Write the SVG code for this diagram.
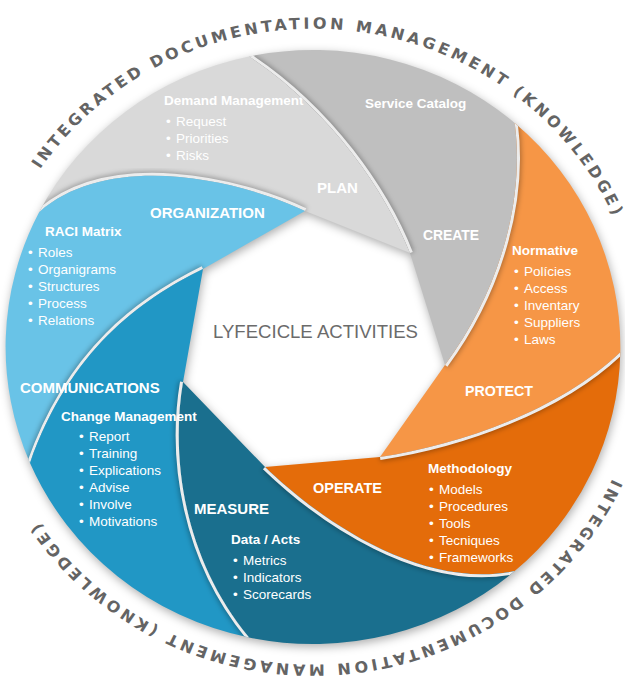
<svg xmlns="http://www.w3.org/2000/svg" xmlns:xlink="http://www.w3.org/1999/xlink" width="625" height="689" viewBox="0 0 625 689">
<style>
.sub{font-family:"Liberation Sans",Arial,sans-serif;font-weight:bold;font-size:13.5px;fill:#fff}
.item{font-family:"Liberation Sans",Arial,sans-serif;font-size:13.5px;fill:#fff}
.head{font-family:"Liberation Sans",Arial,sans-serif;font-weight:bold;font-size:15px;fill:#fff}
.ring{font-family:"DejaVu Sans","Liberation Sans",sans-serif;font-weight:bold;font-size:15.5px;fill:#646464;letter-spacing:3.2px}
.center{font-family:"Liberation Sans",Arial,sans-serif;font-size:19px;fill:#6b6b6b}
.edge-shadow{fill:none;stroke:#000;stroke-opacity:.28;stroke-width:9;filter:url(#blur3)}
.edge-light{fill:none;stroke:#ececec;stroke-width:6}
</style>
<defs>
<filter id="blur3" x="-20%" y="-20%" width="140%" height="140%"><feGaussianBlur stdDeviation="2.5"/></filter>
<filter id="blur5" x="-10%" y="-10%" width="120%" height="120%"><feGaussianBlur stdDeviation="5"/></filter>
<path id="s-lb" d="M305,211 C240,180 110,150 39.1,212.2 A307.4,297 0 0 0 30,463 C70,350 140,300 203,269 Z"/>
<path id="s-lg" d="M410,253 C385,190 330,110 249.1,56.5 A307.4,297 0 0 0 39.1,212.2 C110,150 240,180 305,211 Z"/>
<path id="s-dg" d="M445,365 C500,290 525,200 514.7,122.9 A307.4,297 0 0 0 249.1,56.5 C330,110 385,190 410,253 Z"/>
<path id="s-lo" d="M380,457 C460,445 560,410 620.3,352.2 A307.4,297 0 0 0 514.7,122.9 C525,200 500,290 445,365 Z"/>
<path id="s-do" d="M265,467 C320,520 420,590 514.7,571.1 A307.4,297 0 0 0 620.3,352.2 C560,410 460,445 380,457 Z"/>
<path id="s-te" d="M183,382 C170,460 185,560 249.1,637.5 A307.4,297 0 0 0 514.7,571.1 C420,590 320,520 265,467 Z"/>
<path id="s-mb" d="M203,269 C140,300 70,350 30,463 A307.4,297 0 0 0 249.1,637.5 C185,560 170,460 183,382 Z"/>
<path id="e-lb" d="M305,211 C240,180 110,150 39.1,212.2"/>
<path id="e-lg" d="M410,253 C385,190 330,110 249.1,56.5"/>
<path id="e-dg" d="M445,365 C500,290 525,200 514.7,122.9"/>
<path id="e-lo" d="M380,457 C460,445 560,410 620.3,352.2"/>
<path id="e-do" d="M265,467 C320,520 420,590 514.7,571.1"/>
<path id="e-te" d="M183,382 C170,460 185,560 249.1,637.5"/>
<path id="e-mb" d="M203,269 C140,300 70,350 30,463"/>
<clipPath id="c-lb"><use xlink:href="#s-lb"/></clipPath>
<clipPath id="c-lg"><use xlink:href="#s-lg"/></clipPath>
<clipPath id="c-dg"><use xlink:href="#s-dg"/></clipPath>
<clipPath id="c-lo"><use xlink:href="#s-lo"/></clipPath>
<clipPath id="c-do"><use xlink:href="#s-do"/></clipPath>
<clipPath id="c-te"><use xlink:href="#s-te"/></clipPath>
<clipPath id="c-mb"><use xlink:href="#s-mb"/></clipPath>
<path id="arc-top" d="M-263.6,-177.8 A318,318 0 1 1 243.6,204.4"/>
<path id="arc-bottom" d="M289.4,131.9 A318,318 0 1 1 -274.0,-161.4"/>
</defs>

<rect width="625" height="689" fill="#fff"/>

<g id="ring-title" transform="translate(313,347) scale(1.035,1)">
<text class="ring"><textPath xlink:href="#arc-top">INTEGRATED DOCUMENTATION MANAGEMENT (KNOWLEDGE)</textPath></text>
<text class="ring"><textPath xlink:href="#arc-bottom">INTEGRATED DOCUMENTATION MANAGEMENT (KNOWLEDGE)</textPath></text>
</g>

<path id="disc-shadow" transform="translate(1,3)" fill="#000" fill-opacity=".32" fill-rule="evenodd" filter="url(#blur5)" d="M5.6,347 A307.4,297 0 1 1 620.4,347 A307.4,297 0 1 1 5.6,347 Z M305,211 L410,253 L445,365 L380,457 L265,467 L183,382 L203,269 Z"/>

<g id="node-plan">
<use xlink:href="#s-lg" fill="#d9d9d9"/>
<g clip-path="url(#c-lg)"><use xlink:href="#e-lb" class="edge-shadow"/><use xlink:href="#e-lb" class="edge-light"/></g>
<text class="sub" x="164" y="105">Demand Management</text>
<text class="item" x="166" y="126">•</text><text class="item" x="176" y="126">Request</text>
<text class="item" x="166" y="143">•</text><text class="item" x="176" y="143">Priorities</text>
<text class="item" x="166" y="160">•</text><text class="item" x="176" y="160">Risks</text>
<text class="head" x="317" y="193">PLAN</text>
</g>

<g id="node-create">
<use xlink:href="#s-dg" fill="#bfbfbf"/>
<g clip-path="url(#c-dg)"><use xlink:href="#e-lg" class="edge-shadow"/><use xlink:href="#e-lg" class="edge-light"/></g>
<text class="sub" x="365" y="108">Service Catalog</text>
<text class="head" x="423" y="240" textLength="56" lengthAdjust="spacingAndGlyphs">CREATE</text>
</g>

<g id="node-protect">
<use xlink:href="#s-lo" fill="#f69646"/>
<g clip-path="url(#c-lo)"><use xlink:href="#e-dg" class="edge-shadow"/><use xlink:href="#e-dg" class="edge-light"/></g>
<text class="sub" x="512" y="255">Normative</text>
<text class="item" x="514" y="276">•</text><text class="item" x="524" y="276">Polícies</text>
<text class="item" x="514" y="293">•</text><text class="item" x="524" y="293">Access</text>
<text class="item" x="514" y="310">•</text><text class="item" x="524" y="310">Inventary</text>
<text class="item" x="514" y="327">•</text><text class="item" x="524" y="327">Suppliers</text>
<text class="item" x="514" y="344">•</text><text class="item" x="524" y="344">Laws</text>
<text class="head" x="465" y="396" textLength="68" lengthAdjust="spacingAndGlyphs">PROTECT</text>
</g>

<g id="node-operate">
<use xlink:href="#s-do" fill="#e46c0a"/>
<g clip-path="url(#c-do)"><use xlink:href="#e-lo" class="edge-shadow"/><use xlink:href="#e-lo" class="edge-light"/></g>
<text class="head" x="313" y="493" textLength="69" lengthAdjust="spacingAndGlyphs">OPERATE</text>
<text class="sub" x="428" y="473">Methodology</text>
<text class="item" x="429" y="494">•</text><text class="item" x="439" y="494">Models</text>
<text class="item" x="429" y="511">•</text><text class="item" x="439" y="511">Procedures</text>
<text class="item" x="429" y="528">•</text><text class="item" x="439" y="528">Tools</text>
<text class="item" x="429" y="545">•</text><text class="item" x="439" y="545">Tecniques</text>
<text class="item" x="429" y="562">•</text><text class="item" x="439" y="562">Frameworks</text>
</g>

<g id="node-measure">
<use xlink:href="#s-te" fill="#1a6f8e"/>
<g clip-path="url(#c-te)"><use xlink:href="#e-do" class="edge-shadow"/><use xlink:href="#e-do" class="edge-light"/></g>
<text class="head" x="194" y="514">MEASURE</text>
<text class="sub" x="231" y="544">Data / Acts</text>
<text class="item" x="233" y="565">•</text><text class="item" x="243" y="565">Metrics</text>
<text class="item" x="233" y="582">•</text><text class="item" x="243" y="582">Indicators</text>
<text class="item" x="233" y="599">•</text><text class="item" x="243" y="599">Scorecards</text>
</g>

<g id="node-organization">
<use xlink:href="#s-lb" fill="#69c3e7"/>
<g clip-path="url(#c-lb)"><use xlink:href="#e-mb" class="edge-shadow"/><use xlink:href="#e-mb" class="edge-light"/></g>
<text class="head" x="150" y="218">ORGANIZATION</text>
<text class="sub" x="45" y="236">RACI Matrix</text>
<text class="item" x="28" y="257">•</text><text class="item" x="38" y="257">Roles</text>
<text class="item" x="28" y="274">•</text><text class="item" x="38" y="274">Organigrams</text>
<text class="item" x="28" y="291">•</text><text class="item" x="38" y="291">Structures</text>
<text class="item" x="28" y="308">•</text><text class="item" x="38" y="308">Process</text>
<text class="item" x="28" y="325">•</text><text class="item" x="38" y="325">Relations</text>
</g>

<g id="node-communications">
<use xlink:href="#s-mb" fill="#2197c5"/>
<g clip-path="url(#c-mb)"><use xlink:href="#e-te" class="edge-shadow"/><use xlink:href="#e-te" class="edge-light"/></g>
<text class="head" x="20" y="393">COMMUNICATIONS</text>
<text class="sub" x="61" y="421">Change Management</text>
<text class="item" x="79" y="441">•</text><text class="item" x="89" y="441">Report</text>
<text class="item" x="79" y="458">•</text><text class="item" x="89" y="458">Training</text>
<text class="item" x="79" y="475">•</text><text class="item" x="89" y="475">Explications</text>
<text class="item" x="79" y="492">•</text><text class="item" x="89" y="492">Advise</text>
<text class="item" x="79" y="509">•</text><text class="item" x="89" y="509">Involve</text>
<text class="item" x="79" y="526">•</text><text class="item" x="89" y="526">Motivations</text>
</g>

<g id="connectors"></g>

<g id="node-center">
<text class="center" x="213" y="338" textLength="205" lengthAdjust="spacingAndGlyphs">LYFECICLE ACTIVITIES</text>
</g>
</svg>
